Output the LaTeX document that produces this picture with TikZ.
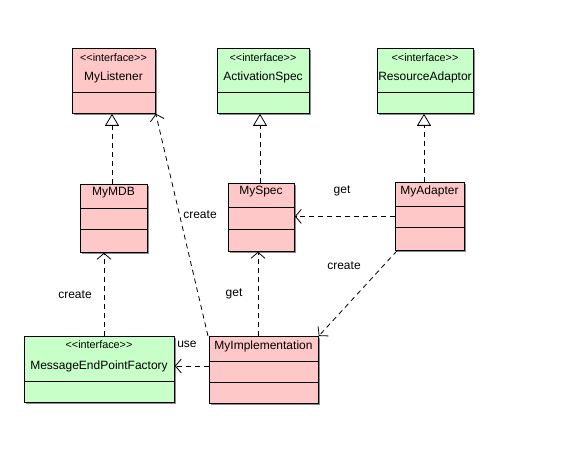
\documentclass[tikz,border=0pt]{standalone}
\usepackage{fontspec}
\setmainfont{Liberation Sans}
\usetikzlibrary{arrows.meta,calc,shadows}
\definecolor{pinkfill}{RGB}{255,200,200}
\definecolor{greenfill}{RGB}{200,255,200}
\newcommand\stereo{<{}<interface>{}>}
\tikzset{
  classbox/.style={draw=black, line width=0.8pt, inner sep=0pt, anchor=north west,
    drop shadow={shadow xshift=1.2pt, shadow yshift=-1.2pt, fill=black!45, opacity=1}},
  divider/.style={draw=black, line width=0.8pt},
  nametext/.style={font=\fontsize{12}{14}\selectfont, inner sep=0pt},
  stereotext/.style={font=\fontsize{10.8}{12}\selectfont, inner sep=0pt},
  labeltext/.style={font=\fontsize{12}{14}\selectfont, inner sep=0pt},
  realize/.style={draw=black, line width=0.8pt, dash pattern=on 5pt off 4pt,
    -{Triangle[length=12pt, width=14pt, fill=white, line width=0.8pt]}},
  depend/.style={draw=black, line width=0.8pt, dash pattern=on 5pt off 4pt,
    -{Straight Barb[length=6pt, width=14pt, line width=0.8pt]}}
}
\begin{document}
\begin{tikzpicture}[x=1pt, y=-1pt]
\useasboundingbox[fill=white] (0,0) rectangle (566,452);

% Top interfaces
\node[classbox, fill=pinkfill, minimum width=83pt, minimum height=65pt] (ML) at (72,48) {};
\draw[divider] ($(ML.north west)+(0,44)$) -- ($(ML.north east)+(0,44)$);
\node[stereotext] (MLs) at (113.5,58) {\stereo};
\node[nametext] (MLn) at (113.5,77) {MyListener};

\node[classbox, fill=greenfill, minimum width=92pt, minimum height=65pt] (AS) at (217,48) {};
\draw[divider] ($(AS.north west)+(0,44)$) -- ($(AS.north east)+(0,44)$);
\node[stereotext] (ASs) at (263,58) {\stereo};
\node[nametext] (ASn) at (263,77) {ActivationSpec};

\node[classbox, fill=greenfill, minimum width=96pt, minimum height=65pt] (RA) at (377,48) {};
\draw[divider] ($(RA.north west)+(0,44)$) -- ($(RA.north east)+(0,44)$);
\node[stereotext] (RAs) at (425,58) {\stereo};
\node[nametext] (RAn) at (425,77) {ResourceAdaptor};

% Middle classes
\node[classbox, fill=pinkfill, minimum width=67pt, minimum height=68pt] (MDB) at (80,184) {};
\draw[divider] ($(MDB.north west)+(0,24)$) -- ($(MDB.north east)+(0,24)$);
\draw[divider] ($(MDB.north west)+(0,45)$) -- ($(MDB.north east)+(0,45)$);
\node[nametext] (MDBn) at (113.5,193) {MyMDB};

\node[classbox, fill=pinkfill, minimum width=66pt, minimum height=68pt] (MS) at (228,183) {};
\draw[divider] ($(MS.north west)+(0,24)$) -- ($(MS.north east)+(0,24)$);
\draw[divider] ($(MS.north west)+(0,46)$) -- ($(MS.north east)+(0,46)$);
\node[nametext] (MSn) at (261,192) {MySpec};

\node[classbox, fill=pinkfill, minimum width=69pt, minimum height=68pt] (MA) at (395,182) {};
\draw[divider] ($(MA.north west)+(0,24)$) -- ($(MA.north east)+(0,24)$);
\draw[divider] ($(MA.north west)+(0,45)$) -- ($(MA.north east)+(0,45)$);
\node[nametext] (MAn) at (429.5,191) {MyAdapter};

% Bottom classes
\node[classbox, fill=greenfill, minimum width=150pt, minimum height=66pt] (MEPF) at (24,336) {};
\draw[divider] ($(MEPF.north west)+(0,45)$) -- ($(MEPF.north east)+(0,45)$);
\node[stereotext] (MEPFs) at (99,345) {\stereo};
\node[nametext] (MEPFn) at (99,366) {MessageEndPointFactory};

\node[classbox, fill=pinkfill, minimum width=109pt, minimum height=67pt] (MI) at (209,336) {};
\draw[divider] ($(MI.north west)+(0,25)$) -- ($(MI.north east)+(0,25)$);
\draw[divider] ($(MI.north west)+(0,46)$) -- ($(MI.north east)+(0,46)$);
\node[nametext] (MIn) at (263.5,346) {MyImplementation};

% Realizations
\coordinate (mdbtop) at ($(MDB.north west)+(32,0)$);
\draw[realize] (mdbtop) -- (mdbtop |- ML.south);
\coordinate (mstop) at ($(MS.north west)+(32,0)$);
\draw[realize] (mstop) -- (mstop |- AS.south);
\coordinate (matop) at ($(MA.north west)+(29,0)$);
\draw[realize] (matop) -- (matop |- RA.south);

% Dependencies
\draw[depend] (MA.west) -- (MA.west -| MS.east);
\draw[depend] ($(MA.south west)+(2,0)$) -- (MI.north east);
\coordinate (mitop) at ($(MI.north west)+(49,0)$);
\draw[depend] (mitop) -- (mitop |- MS.south);
\draw[depend] ($(MI.north west)+(-1,0)$) -- (ML.south east);
\coordinate (useend) at ($(MEPF.north east)+(0,30)$);
\draw[depend] (MI.west |- useend) -- (useend);
\coordinate (mepftop) at ($(MEPF.north west)+(80,0)$);
\draw[depend] (mepftop) -- (mepftop |- MDB.south);

% Labels
\node[labeltext] (l1) at (342,191) {get};
\node[labeltext] (l2) at (344,266) {create};
\node[labeltext] (l3) at (234,294) {get};
\node[labeltext] (l4) at (200,215) {create};
\node[labeltext] (l5) at (187,344) {use};
\node[labeltext] (l6) at (75,295) {create};
\end{tikzpicture}
\end{document}
